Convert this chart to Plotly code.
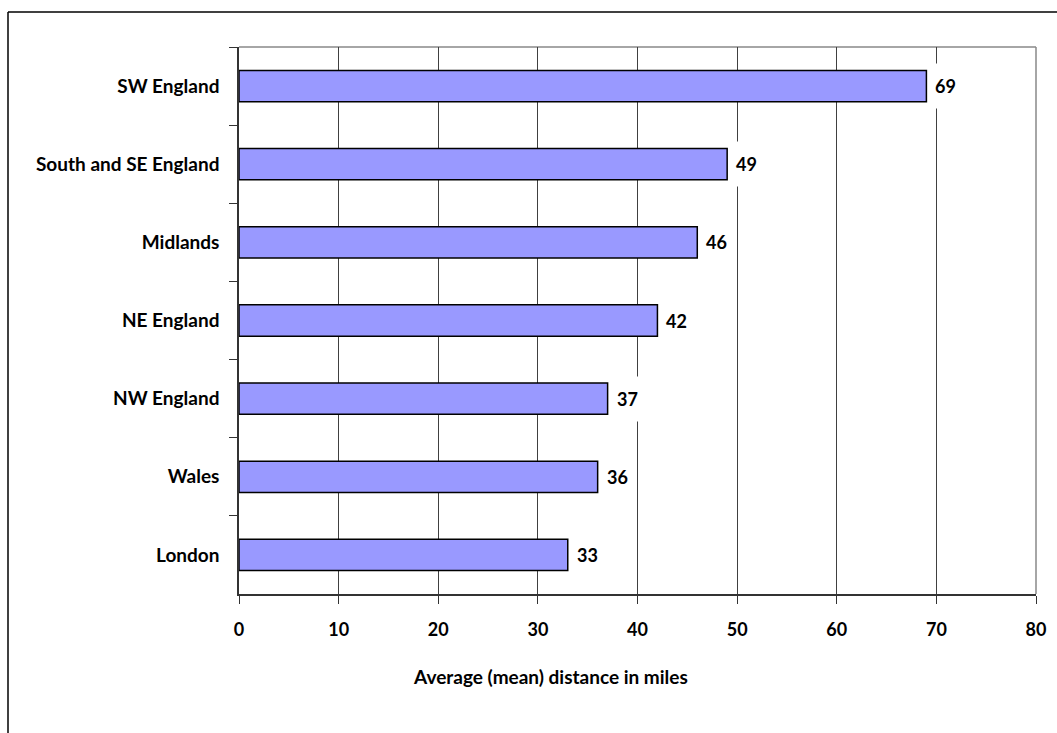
import plotly.graph_objects as go

regions = ["SW England", "South and SE England", "Midlands", "NE England",
           "NW England", "Wales", "London"]
distances = [69, 49, 46, 42, 37, 36, 33]
x_ticks = [0, 10, 20, 30, 40, 50, 60, 70, 80]
x_title = "Average (mean) distance in miles"

W, H = 1057, 733
L, R, T, B = 239, 21, 47, 139
pw, ph = W - L - R, H - T - B

def px_x(p):
    return (p - L) / pw

def px_y(p):
    return (H - B - p) / ph

FONT = "Lato"

fig = go.Figure()
fig.add_trace(go.Bar(
    x=distances, y=regions, orientation="h",
    marker=dict(color="#9999FF", line=dict(color="black", width=1.5)),
    hoverinfo="skip",
))

annotations = []
for v, r in zip(distances, regions):
    annotations.append(dict(
        x=v, y=r, xref="x", yref="y", text=str(v), showarrow=False,
        xanchor="left", yanchor="middle", xshift=2, width=33, height=44,
        align="center", bgcolor="white", borderpad=0,
        font=dict(family=FONT, size=18, color="black", weight="bold"),
    ))
annotations.append(dict(
    x=px_x(550), y=px_y(676), xref="paper", yref="paper", text=x_title,
    showarrow=False, xanchor="center", yanchor="middle",
    font=dict(family=FONT, size=19, color="black", weight="bold"),
))

shapes = [
    dict(type="line", xref="paper", yref="paper", x0=0, x1=1, y0=1, y1=1,
         line=dict(color="#888888", width=1.5), layer="below"),
    dict(type="line", xref="paper", yref="paper", x0=1, x1=1, y0=0, y1=1,
         line=dict(color="#888888", width=1.5), layer="below"),
    dict(type="line", xref="paper", yref="paper", x0=px_x(8), x1=px_x(8),
         y0=px_y(12), y1=px_y(760), line=dict(color="black", width=1.5)),
    dict(type="line", xref="paper", yref="paper", x0=px_x(8), x1=px_x(1080),
         y0=px_y(12), y1=px_y(12), line=dict(color="black", width=1.5)),
]

fig.update_layout(
    width=W, height=H,
    margin=dict(l=L, r=R, t=T, b=B, pad=0),
    paper_bgcolor="white", plot_bgcolor="white",
    bargap=0.6, showlegend=False,
    annotations=annotations, shapes=shapes,
    font=dict(family=FONT, color="black"),
)
fig.update_xaxes(
    range=[0, 80], tickmode="array", tickvals=x_ticks,
    ticktext=[str(t) for t in x_ticks],
    showgrid=True, gridcolor="#404040", gridwidth=1,
    showline=True, linecolor="#333333", linewidth=1.5,
    ticks="outside", ticklen=8, tickcolor="#333333", tickwidth=1,
    tickfont=dict(family=FONT, size=18, color="black", weight="bold"),
    ticklabelstandoff=11, zeroline=False, fixedrange=True,
)
fig.update_yaxes(
    autorange="reversed", type="category",
    showgrid=False, showline=True, linecolor="#333333", linewidth=1.5,
    ticks="outside", ticklen=8, tickcolor="#333333", tickwidth=1,
    tickson="boundaries",
    tickfont=dict(family=FONT, size=19, color="black", weight="bold"),
    ticklabelstandoff=14, fixedrange=True,
)

fig.write_html("out.html")
